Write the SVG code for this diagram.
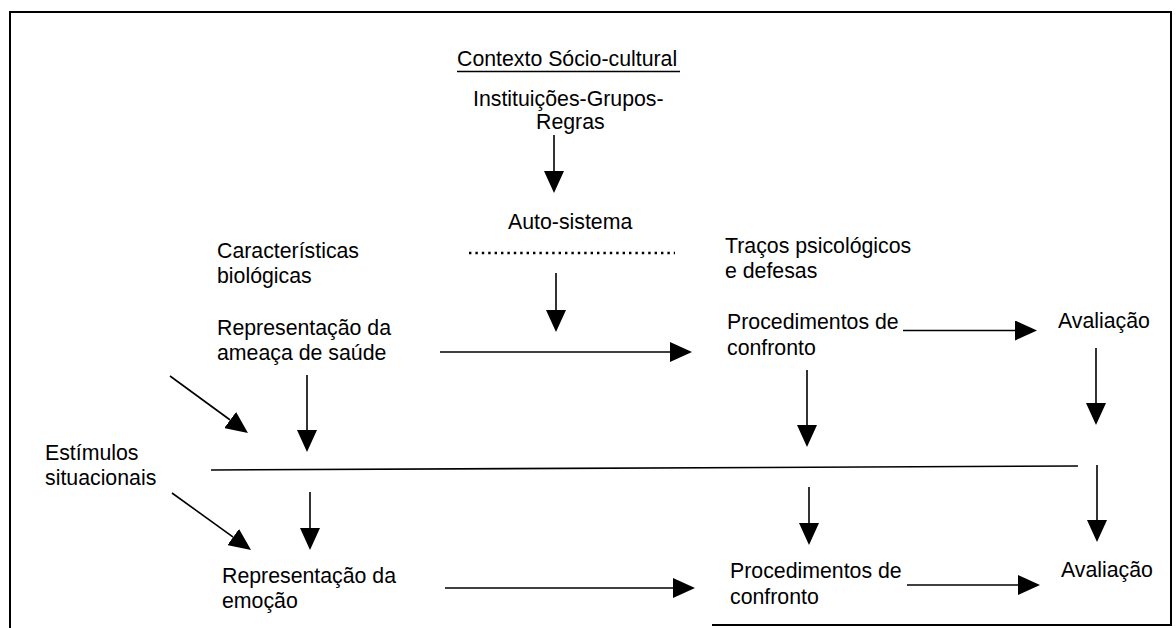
<svg xmlns="http://www.w3.org/2000/svg" width="1176" height="628" viewBox="0 0 1176 628">
<style>
text{font-family:"Liberation Sans",Arial,sans-serif;font-size:21.3px;fill:#000}
.c{stroke:#000;stroke-width:1.6;fill:none}
.f{stroke:#000;stroke-width:2;fill:none}
</style>
<defs>
<marker id="ah" markerUnits="userSpaceOnUse" markerWidth="22" markerHeight="20" refX="0" refY="10" orient="auto">
<path d="M0,0 L22,10 L0,20 z" fill="#000"/>
</marker>
</defs>
<rect width="1176" height="628" fill="#fff"/>
<g id="frame">
<path class="f" d="M10,628 V12 H1171 V625 H712"/>
</g>
<g id="contexto">
<text x="457" y="66">Contexto Sócio-cultural</text>
<line x1="457" y1="71.5" x2="680" y2="71.5" stroke="#000" stroke-width="1.6"/>
</g>
<g id="instituicoes">
<text x="473" y="106">Instituições-Grupos-</text>
<text x="536" y="129">Regras</text>
</g>
<g id="autosistema">
<text x="508" y="229">Auto-sistema</text>
<line x1="469" y1="253" x2="675" y2="253" stroke="#000" stroke-width="2.4" stroke-dasharray="2.4 4"/>
</g>
<g id="caracteristicas">
<text x="217" y="258">Características</text>
<text x="217" y="283">biológicas</text>
</g>
<g id="tracos">
<text x="725" y="253">Traços psicológicos</text>
<text x="725" y="278">e defesas</text>
</g>
<g id="repr-ameaca">
<text x="217" y="335">Representação da</text>
<text x="217" y="360">ameaça de saúde</text>
</g>
<g id="proc1">
<text x="727" y="329">Procedimentos de</text>
<text x="727" y="355">confronto</text>
</g>
<g id="aval1">
<text x="1058" y="328">Avaliação</text>
</g>
<g id="estimulos">
<text x="45" y="460">Estímulos</text>
<text x="45" y="485">situacionais</text>
</g>
<g id="repr-emocao">
<text x="222" y="583">Representação da</text>
<text x="222" y="608">emoção</text>
</g>
<g id="proc2">
<text x="730" y="578">Procedimentos de</text>
<text x="730" y="604">confronto</text>
</g>
<g id="aval2">
<text x="1061" y="577">Avaliação</text>
</g>
<g id="connectors">
<line class="c" x1="554" y1="135" x2="554" y2="171" marker-end="url(#ah)"/>
<line class="c" x1="556" y1="273" x2="556" y2="310" marker-end="url(#ah)"/>
<line class="c" x1="307" y1="375" x2="307" y2="430" marker-end="url(#ah)"/>
<line class="c" x1="310" y1="492" x2="310" y2="528" marker-end="url(#ah)"/>
<line class="c" x1="807" y1="370" x2="807" y2="425" marker-end="url(#ah)"/>
<line class="c" x1="809" y1="487" x2="809" y2="523" marker-end="url(#ah)"/>
<line class="c" x1="1096" y1="348" x2="1096" y2="403" marker-end="url(#ah)"/>
<line class="c" x1="1097" y1="465" x2="1097" y2="520" marker-end="url(#ah)"/>
<line class="c" x1="440" y1="352" x2="670" y2="352" marker-end="url(#ah)"/>
<line class="c" x1="903" y1="330.5" x2="1015" y2="330.5" marker-end="url(#ah)"/>
<line class="c" x1="445" y1="588" x2="673" y2="588" marker-end="url(#ah)"/>
<line class="c" x1="907" y1="585" x2="1018" y2="585" marker-end="url(#ah)"/>
<line class="c" x1="170" y1="376" x2="230.2" y2="420" marker-end="url(#ah)"/>
<line class="c" x1="172" y1="493" x2="233.2" y2="537.1" marker-end="url(#ah)"/>
<line class="c" x1="211" y1="470" x2="1078" y2="466"/>
</g>
</svg>
